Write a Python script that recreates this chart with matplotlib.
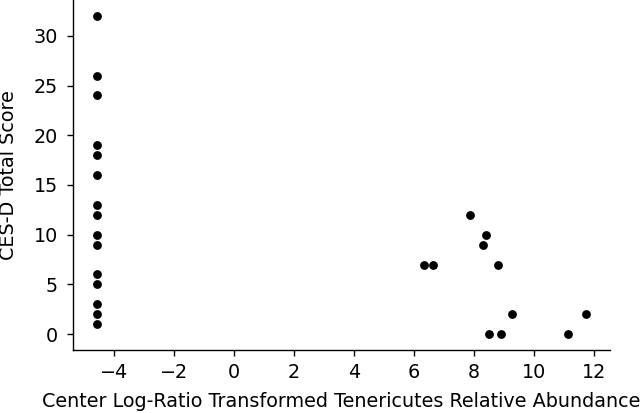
import matplotlib
matplotlib.use("Agg")
import matplotlib.pyplot as plt

x_left = [-4.55] * 15
y_left = [32, 26, 24, 19, 18, 16, 13, 12, 10, 9, 6, 5, 3, 2, 1]
x_right = [6.34, 6.64, 7.87, 8.29, 8.40, 8.82, 8.51, 8.92, 9.26, 11.13, 11.73]
y_right = [7, 7, 12, 9, 10, 7, 0, 0, 2, 0, 2]

xs = x_left + x_right
ys = y_left + y_right

fig = plt.figure(figsize=(6.43, 4.13), dpi=100)
ax = fig.add_axes([0.113, 0.1525, 0.836, 0.8475])
ax.scatter(xs, ys, s=40, color="black", linewidths=0)
ax.spines["top"].set_visible(False)
ax.spines["right"].set_visible(False)
for s in ("left", "bottom"):
    ax.spines[s].set_linewidth(1.0)
ax.set_xticks([-4, -2, 0, 2, 4, 6, 8, 10, 12])
ax.set_yticks([0, 5, 10, 15, 20, 25, 30])
ax.tick_params(labelsize=13.8, length=4.2, width=1.0, pad=5)
ax.tick_params(axis="y", pad=6.5)
ax.set_xlabel("Center Log-Ratio Transformed Tenericutes Relative Abundance", fontsize=13.8, labelpad=7)
ax.set_ylabel("CES-D Total Score", fontsize=13.8, labelpad=11)
fig.savefig("out.png", dpi=100)
